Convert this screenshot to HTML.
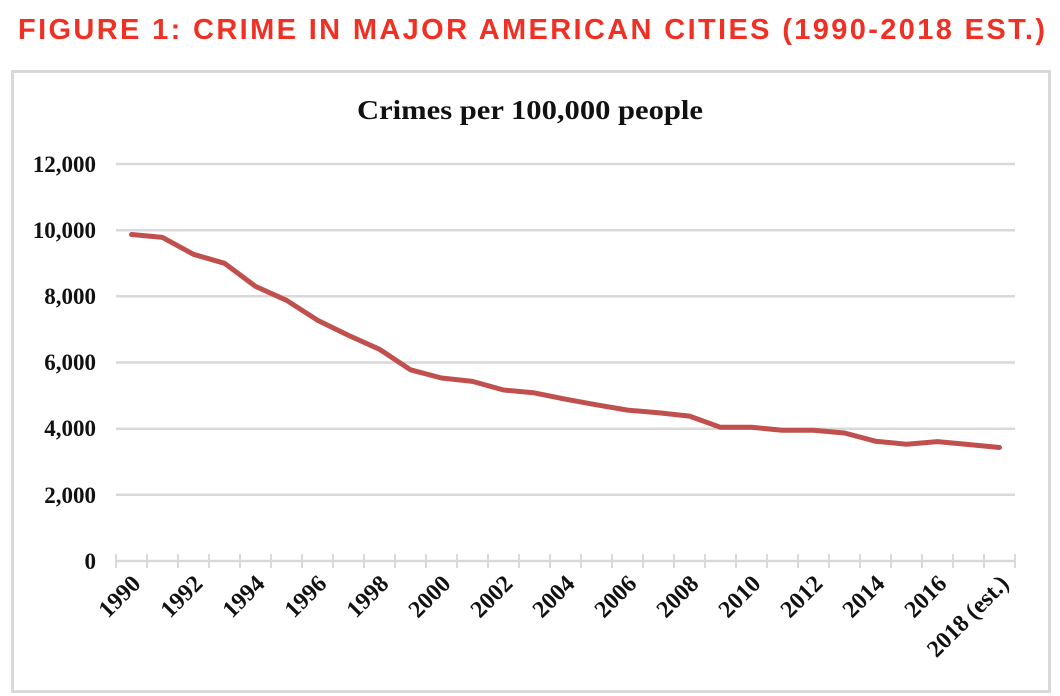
<!DOCTYPE html>
<html><head><style>
html,body{margin:0;padding:0;background:#fff;width:1060px;height:696px;overflow:hidden}
</style></head><body>
<svg width="1060" height="696" xmlns="http://www.w3.org/2000/svg">
<text x="18" y="39" font-family="Liberation Sans, sans-serif" font-weight="bold" font-size="29" fill="#ee3124" textLength="1027" lengthAdjust="spacing">FIGURE 1: CRIME IN MAJOR AMERICAN CITIES (1990-2018 EST.)</text>
<rect x="12.5" y="71.5" width="1037" height="620" fill="#fff" stroke="#d9d9d9" stroke-width="3"/>
<text x="530" y="119" text-anchor="middle" font-family="Liberation Serif, serif" font-weight="bold" font-size="27" fill="#111" textLength="346" lengthAdjust="spacingAndGlyphs">Crimes per 100,000 people</text>
<g stroke="#d9d9d9" stroke-width="2.5">
<line x1="116" x2="1015" y1="164" y2="164"/>
<line x1="116" x2="1015" y1="230.2" y2="230.2"/>
<line x1="116" x2="1015" y1="296.3" y2="296.3"/>
<line x1="116" x2="1015" y1="362.5" y2="362.5"/>
<line x1="116" x2="1015" y1="428.7" y2="428.7"/>
<line x1="116" x2="1015" y1="494.8" y2="494.8"/>
<line x1="116" x2="1015" y1="561" y2="561"/>
</g>
<path stroke="#d9d9d9" stroke-width="2" fill="none" d="M116 554V568M147 554V568M178 554V568M209 554V568M240 554V568M271 554V568M302 554V568M333 554V568M364 554V568M395 554V568M426 554V568M457 554V568M488 554V568M519 554V568M550 554V568M581 554V568M612 554V568M643 554V568M674 554V568M705 554V568M736 554V568M767 554V568M798 554V568M829 554V568M860 554V568M891 554V568M922 554V568M953 554V568M984 554V568M1015 554V568"/>
<g font-family="Liberation Serif, serif" font-weight="bold" font-size="23" fill="#111" text-anchor="end">
<text x="96" y="172">12,000</text>
<text x="96" y="238">10,000</text>
<text x="96" y="304">8,000</text>
<text x="96" y="370">6,000</text>
<text x="96" y="436">4,000</text>
<text x="96" y="503">2,000</text>
<text x="96" y="569">0</text>
</g>
<g font-family="Liberation Serif, serif" font-weight="bold" font-size="24" fill="#111" text-anchor="end">
<text transform="translate(142,585) rotate(-45)">1990</text>
<text transform="translate(204,585) rotate(-45)">1992</text>
<text transform="translate(266,585) rotate(-45)">1994</text>
<text transform="translate(328,585) rotate(-45)">1996</text>
<text transform="translate(390,585) rotate(-45)">1998</text>
<text transform="translate(452,585) rotate(-45)">2000</text>
<text transform="translate(514,585) rotate(-45)">2002</text>
<text transform="translate(576,585) rotate(-45)">2004</text>
<text transform="translate(638,585) rotate(-45)">2006</text>
<text transform="translate(700,585) rotate(-45)">2008</text>
<text transform="translate(762,585) rotate(-45)">2010</text>
<text transform="translate(824,585) rotate(-45)">2012</text>
<text transform="translate(886,585) rotate(-45)">2014</text>
<text transform="translate(948,585) rotate(-45)">2016</text>
<text transform="translate(1010,585) rotate(-45)">2018 (est.)</text>
</g>
<polyline fill="none" stroke="#c0504d" stroke-width="5" stroke-linejoin="round" stroke-linecap="round" points="131.5,234.5 162.5,237.4 193.5,254.3 224.5,263.3 255.5,286.4 286.5,300.3 317.5,320.2 348.5,335.4 379.5,349.3 410.5,369.8 441.5,378 472.5,381.4 503.5,390 534.5,392.9 565.5,399.2 596.5,404.8 627.5,410.1 658.5,412.8 689.5,416.1 720.5,427.3 751.5,427.3 782.5,430.3 813.5,430.3 844.5,433 875.5,441.2 906.5,444.2 937.5,441.6 968.5,444.5 999.5,447.5"/>
</svg>
</body></html>
